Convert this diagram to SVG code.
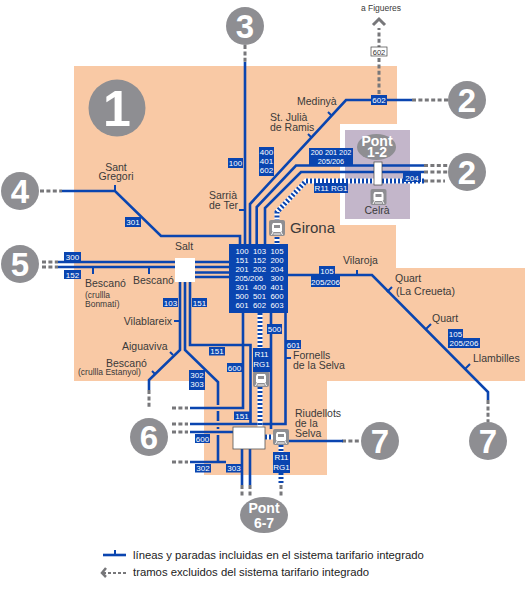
<svg xmlns="http://www.w3.org/2000/svg" width="526" height="599" viewBox="0 0 526 599">
<style>
text{font-family:"Liberation Sans",Arial,sans-serif;fill:#3a3a3a;font-size:10.5px}
.l{fill:none;stroke:#0a45b0;stroke-width:2.6}
.t{fill:none;stroke:#0a45b0;stroke-width:2}
.d{fill:none;stroke:#77777a;stroke-width:3;stroke-dasharray:4 2.4}
.rw{fill:none;stroke:#fff;stroke-width:5}
.rb{fill:none;stroke:#0a45b0;stroke-width:5;stroke-dasharray:2 2}
.b{fill:#0a45b0}
.w{fill:#fff;font-size:8px;text-anchor:middle}
.c{fill:#8e8e92}
.n{fill:#fff;font-weight:bold;font-size:33px;text-anchor:middle}
.p{fill:#fff;font-weight:bold;font-size:14px;text-anchor:middle}
.m{text-anchor:middle}
.e{text-anchor:end}
.s{font-size:8.5px}
</style>
<defs>
<g id="train">
<rect x="-8" y="-8" width="16" height="16" rx="2" fill="#8e8e92"/>
<path d="M-4-5h8l1 2v6l-1 1h-8l-1-1v-6z" fill="#fff"/>
<rect x="-3" y="-3" width="6" height="3" fill="#8e8e92"/>
<path d="M-4 4l-1.500 3M4 4l1.500 3M-3.500 6h7" fill="none" stroke="#fff" stroke-width="1"/>
</g>
</defs>
<path id="zone" fill="#f9c9a5" d="M74 66H397V124H340V225H396V268H525V381H327V475H204V381H74Z"/>
<rect id="zone-celra" x="345" y="130" width="65" height="89" fill="#c3b6ca"/>
<g id="connectors">
<path class="d" d="M245 45V62M379 94V28M412 100H448M424 165.500H448M424 172H448M424 181H445M40 191H62M42 262H58M42 267H58M488 400V422M149 390V408M172 408H188M172 424H188M172 432H188M172 462H188M342 441H360M242 485V497M250 485V497M281 485V497"/>
<path d="M373 25L379 19L385 25" fill="none" stroke="#77777a" stroke-width="3"/>
<path class="l" d="M245 62V244M250 244V204L346 100H412M256.700 244V207L296 165.500H424M265 244V208L301 172H424M62 191H115L161 236H240V244M58 262H175M58 267H175M195 262H229M195 267H229M195 272.500H229M195 277H229M288 275H372L488 392V400M180 282V350L149 380V390M185 282V350L218 382V405M218 411V421M218 427V429M218 435V462M190 282V345H250.500V424M190 408H243V313M190 424H285.500V313M190 432H233M190 462H226M271 313V429M242 449V485M250 449V485M289 441H343"/>
<path class="t" d="M115 191V185M239 210H245M93 267V274M149 267V274M328 112L332 116M308 134L312 138M357 275V270M387 292L392 287M426 329L431 324M465 369L470 364M174 321H180M170 352L173 355M152 371L155 374M285.500 358H291"/>
<path class="rw" d="M424 181H306L277 212V220M277 237V244M260 313V372M260 387V427M265 437H273M281 445V485"/>
<path class="rb" d="M424 181H306L277 212V220M277 237V244M260 313V372M260 387V427M265 437H273M281 445V485"/>
</g>
<g id="circle-1"><circle class="c" cx="117" cy="108" r="28.500"/><text class="n" x="117" y="126" style="font-size:50px">1</text></g>
<g id="circle-3"><circle class="c" cx="245" cy="26" r="19"/><text class="n" x="245" y="37.500">3</text></g>
<g id="circle-2a"><circle class="c" cx="467" cy="100" r="19"/><text class="n" x="467" y="111.500">2</text></g>
<g id="circle-2b"><circle class="c" cx="467" cy="172" r="19"/><text class="n" x="467" y="183.500">2</text></g>
<g id="circle-4"><circle class="c" cx="20" cy="191" r="19"/><text class="n" x="20" y="202.500">4</text></g>
<g id="circle-5"><circle class="c" cx="20" cy="264" r="19"/><text class="n" x="20" y="275.500">5</text></g>
<g id="circle-6"><circle class="c" cx="149" cy="437" r="19"/><text class="n" x="149" y="448.500">6</text></g>
<g id="circle-7a"><circle class="c" cx="380" cy="441" r="19"/><text class="n" x="380" y="452.500">7</text></g>
<g id="circle-7b"><circle class="c" cx="488" cy="441" r="19"/><text class="n" x="488" y="452.500">7</text></g>
<g id="pont-1-2"><ellipse class="c" cx="376.500" cy="147" rx="19.500" ry="13"/><text class="p"><tspan x="377" y="146">Pont</tspan><tspan x="377" y="157">1-2</tspan></text></g>
<g id="pont-6-7"><ellipse class="c" cx="264" cy="515" rx="24" ry="18"/><text class="p"><tspan x="264" y="513">Pont</tspan><tspan x="264" y="528">6-7</tspan></text></g>
<g id="station-salt"><rect x="175" y="258" width="20" height="24" fill="#fff"/><text class="m" x="184" y="250">Salt</text></g>
<g id="station-celra"><rect x="374" y="162" width="8" height="23" fill="#fff" stroke="#444" stroke-width=".7"/><use href="#train" x="378.500" y="197"/><text class="m" x="377" y="214">Celrà</text></g>
<g id="station-riudellots"><rect x="233" y="427" width="32" height="22" fill="#fff" stroke="#555" stroke-width=".8"/><use href="#train" x="281" y="437"/><text><tspan x="295" y="417">Riudellots</tspan><tspan x="295" y="427">de la</tspan><tspan x="295" y="437">Selva</tspan></text></g>
<g id="station-girona"><use href="#train" x="277" y="228"/><text x="290" y="233" style="font-size:15px">Girona</text></g>
<use id="station-fornells-icon" href="#train" x="261" y="379"/>
<g id="hub-girona"><rect class="b" x="229" y="244" width="59" height="69"/>
<text class="w" style="font-size:7.800px"><tspan x="242" y="254">100</tspan><tspan x="259.500" y="254">103</tspan><tspan x="277" y="254">105</tspan><tspan x="242" y="263">151</tspan><tspan x="259.500" y="263">152</tspan><tspan x="277" y="263">200</tspan><tspan x="242" y="272">201</tspan><tspan x="259.500" y="272">202</tspan><tspan x="277" y="272">204</tspan><tspan x="249" y="281">205/206</tspan><tspan x="277" y="281">300</tspan><tspan x="242" y="290">301</tspan><tspan x="259.500" y="290">400</tspan><tspan x="277" y="290">401</tspan><tspan x="242" y="299">500</tspan><tspan x="259.500" y="299">501</tspan><tspan x="277" y="299">600</tspan><tspan x="242" y="308">601</tspan><tspan x="259.500" y="308">602</tspan><tspan x="277" y="308">603</tspan></text></g>
<g id="labels">
<rect class="b" x="228" y="158" width="15" height="10"/><text class="w" x="235.500" y="166">100</text>
<rect class="b" x="259" y="147" width="15" height="29"/><text class="w"><tspan x="266.500" y="155">400</tspan><tspan x="266.500" y="164">401</tspan><tspan x="266.500" y="173">602</tspan></text>
<rect class="b" x="309" y="148" width="44" height="18"/><text class="w" style="font-size:7.300px"><tspan x="331" y="155">200 201 202</tspan><tspan x="331" y="164">205/206</tspan></text>
<rect class="b" x="403" y="173" width="18" height="9"/><text class="w" x="412" y="180.500">204</text>
<rect class="b" x="314" y="183" width="34" height="10"/><text class="w" x="331" y="191">R11 RG1</text>
<rect class="b" x="371" y="95" width="16" height="10"/><text class="w" x="379" y="103">602</text>
<rect x="371" y="47" width="16" height="9" fill="#fff" stroke="#444" stroke-width=".7"/><text class="w" x="379" y="54.500" style="fill:#333;font-size:7.500px">602</text>
<rect class="b" x="125" y="217" width="16" height="10"/><text class="w" x="133" y="225">301</text>
<rect class="b" x="64" y="252" width="17" height="9"/><text class="w" x="72.500" y="259.500">300</text>
<rect class="b" x="64" y="270" width="17" height="9"/><text class="w" x="72.500" y="277.500">152</text>
<rect class="b" x="163" y="298" width="15" height="9"/><text class="w" x="170.500" y="305.500">103</text>
<rect class="b" x="192" y="298" width="15" height="9"/><text class="w" x="199.500" y="305.500">151</text>
<rect class="b" x="209" y="347" width="16" height="8.500"/><text class="w" x="217" y="354">151</text>
<rect class="b" x="189" y="370" width="16" height="20"/><text class="w"><tspan x="197" y="378">302</tspan><tspan x="197" y="387">303</tspan></text>
<rect class="b" x="227" y="363" width="15" height="9"/><text class="w" x="234.500" y="370.500">600</text>
<rect class="b" x="234" y="411.500" width="16" height="8.500"/><text class="w" x="242" y="419">151</text>
<rect class="b" x="195" y="434" width="15" height="9"/><text class="w" x="202.500" y="441.500">600</text>
<rect class="b" x="195" y="464" width="16" height="8.500"/><text class="w" x="203" y="471">302</text>
<rect class="b" x="226" y="464" width="16" height="8.500"/><text class="w" x="234" y="471">303</text>
<rect class="b" x="253" y="348" width="17" height="24"/><text class="w"><tspan x="261.500" y="357">R11</tspan><tspan x="261.500" y="367">RG1</tspan></text>
<rect class="b" x="273" y="452" width="17" height="21"/><text class="w"><tspan x="281.500" y="460">R11</tspan><tspan x="281.500" y="470">RG1</tspan></text>
<rect class="b" x="267" y="324" width="15" height="10"/><text class="w" x="274.500" y="332">500</text>
<rect class="b" x="286" y="340" width="15" height="9"/><text class="w" x="293.500" y="347.500">601</text>
<rect class="b" x="319" y="266" width="16" height="10"/><text class="w" x="327" y="274">105</text>
<rect class="b" x="311" y="276" width="29" height="11"/><text class="w" x="325.500" y="284.500">205/206</text>
<rect class="b" x="448" y="329" width="15" height="10"/><text class="w" x="455.500" y="337">105</text>
<rect class="b" x="448" y="338" width="32" height="10"/><text class="w" x="464" y="346">205/206</text>
</g>
<g id="place-names">
<text class="s m" x="381" y="11">a Figueres</text>
<text x="297" y="105">Medinyà</text>
<text><tspan x="270" y="121">St. Julià</tspan><tspan x="270" y="131">de Ramis</tspan></text>
<text class="m"><tspan x="116" y="171">Sant</tspan><tspan x="116" y="180">Gregori</tspan></text>
<text><tspan x="209" y="199">Sarrià</tspan><tspan x="209" y="209">de Ter</tspan></text>
<text><tspan x="85" y="287">Bescanó</tspan><tspan class="s" x="85" y="298">(crullla</tspan><tspan class="s" x="85" y="307">Bonmatí)</tspan></text>
<text x="133" y="284">Bescanó</text>
<text class="e" x="172" y="325">Vilablareix</text>
<text x="122" y="350">Aiguaviva</text>
<text><tspan x="106" y="367">Bescanó</tspan><tspan class="s" x="78" y="375">(crullla Estanyol)</tspan></text>
<text><tspan x="293" y="359">Fornells</tspan><tspan x="293" y="369">de la Selva</tspan></text>
<text x="343" y="264">Vilaroja</text>
<text><tspan x="395" y="282">Quart</tspan><tspan x="396" y="295">(La Creueta)</tspan></text>
<text x="432" y="322">Quart</text>
<text x="473" y="362">Llambilles</text>
</g>
<g id="legend">
<path class="l" d="M103 555H126"/><path class="t" d="M115 555V550"/>
<text x="133" y="559" style="font-size:11.300px;fill:#222">líneas y paradas incluidas en el sistema tarifario integrado</text>
<path d="M106 568L102 573L106 577" fill="none" stroke="#77777a" stroke-width="2.500"/>
<path d="M103 573H126" fill="none" stroke="#77777a" stroke-width="1.800" stroke-dasharray="3 2"/>
<text x="133" y="576" style="font-size:11.300px;fill:#222">tramos excluidos del sistema tarifario integrado</text>
</g>
</svg>
